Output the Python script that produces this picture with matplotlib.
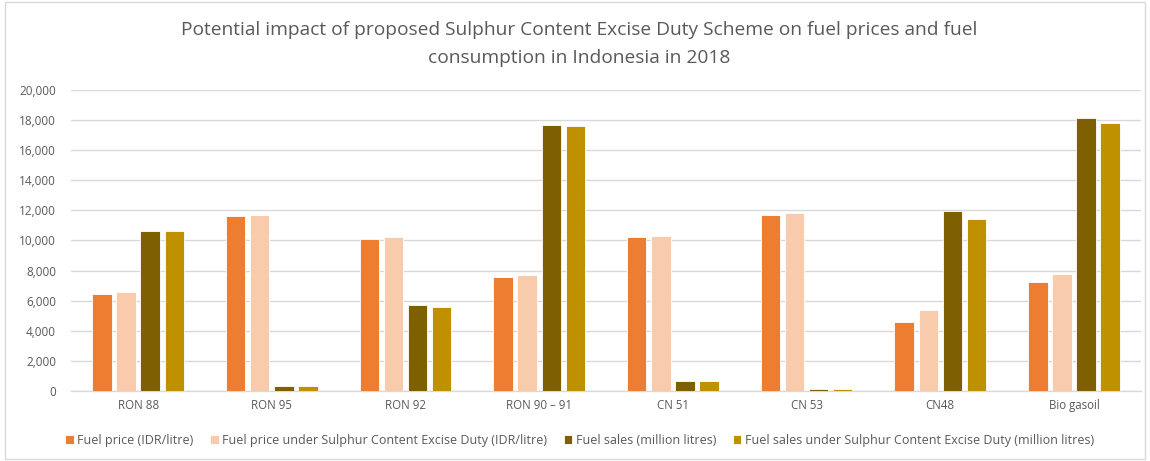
import matplotlib
matplotlib.use("Agg")
import matplotlib.pyplot as plt
import numpy as np
from matplotlib.patches import Rectangle

categories = ["RON 88", "RON 95", "RON 92", "RON 90 – 91", "CN 51", "CN 53", "CN48", "Bio gasoil"]
fuel_price = [6450, 11600, 10100, 7600, 10200, 11700, 4600, 7250]
fuel_price_scd = [6550, 11700, 10200, 7700, 10300, 11800, 5350, 7800]
fuel_sales = [10650, 350, 5700, 17700, 650, 130, 11950, 18100]
fuel_sales_scd = [10650, 340, 5600, 17600, 650, 130, 11400, 17800]
series_names = ["Fuel price (IDR/litre)",
                "Fuel price under Sulphur Content Excise Duty (IDR/litre)",
                "Fuel sales (million litres)",
                "Fuel sales under Sulphur Content Excise Duty (million litres)"]
colors = ["#ED7D31", "#F8CBAD", "#7F6000", "#BF9000"]
yticks = list(range(0, 20001, 2000))

plt.rcParams['font.family'] = ['Open Sans', 'DejaVu Sans']
fig = plt.figure(figsize=(11.5, 4.61), dpi=100)
ax = fig.add_axes([0.062, 0.152, 0.93, 0.653])

series = [fuel_price, fuel_price_scd, fuel_sales, fuel_sales_scd]
x = np.arange(len(categories))
pitch = 0.18
width = 0.145
for i, (vals, c, n) in enumerate(zip(series, colors, series_names)):
    ax.bar(x + (i - 1.5) * pitch, vals, width, color=c, label=n,
           edgecolor='white', linewidth=0.6, zorder=3)

ax.set_xlim(-0.5, len(categories) - 0.5)
ax.set_ylim(0, 20000)
ax.set_yticks(yticks)
ax.set_yticklabels([f"{v:,}" for v in yticks], fontsize=8.5, color="#595959")
ax.set_xticks(x)
ax.set_xticklabels(categories, fontsize=8.3, color="#595959")
ax.tick_params(axis='y', length=0, pad=11)
ax.tick_params(axis='x', length=0, pad=6)
ax.grid(axis='y', color="#D9D9D9", linewidth=1.0, zorder=0)
for s in ['top', 'right', 'left']:
    ax.spines[s].set_visible(False)
ax.spines['bottom'].set_color("#D9D9D9")
ax.spines['bottom'].set_linewidth(1.0)

fig.text(0.504, 0.935, "Potential impact of proposed Sulphur Content Excise Duty Scheme on fuel prices and fuel",
         ha='center', va='center', fontsize=13.8, color="#595959")
fig.text(0.504, 0.875, "consumption in Indonesia in 2018",
         ha='center', va='center', fontsize=13.8, color="#595959")

leg = fig.legend(loc='center', bbox_to_anchor=(0.504, 0.045), ncol=4, frameon=False,
                 fontsize=9, handlelength=0.7, handleheight=0.7, handletextpad=0.3,
                 columnspacing=1.3, labelcolor="#595959")

fig.patches.append(Rectangle((0.004, 0.005), 0.992, 0.99, transform=fig.transFigure,
                             fill=False, edgecolor="#D9D9D9", linewidth=1.0))

fig.savefig("out.png", dpi=100)
